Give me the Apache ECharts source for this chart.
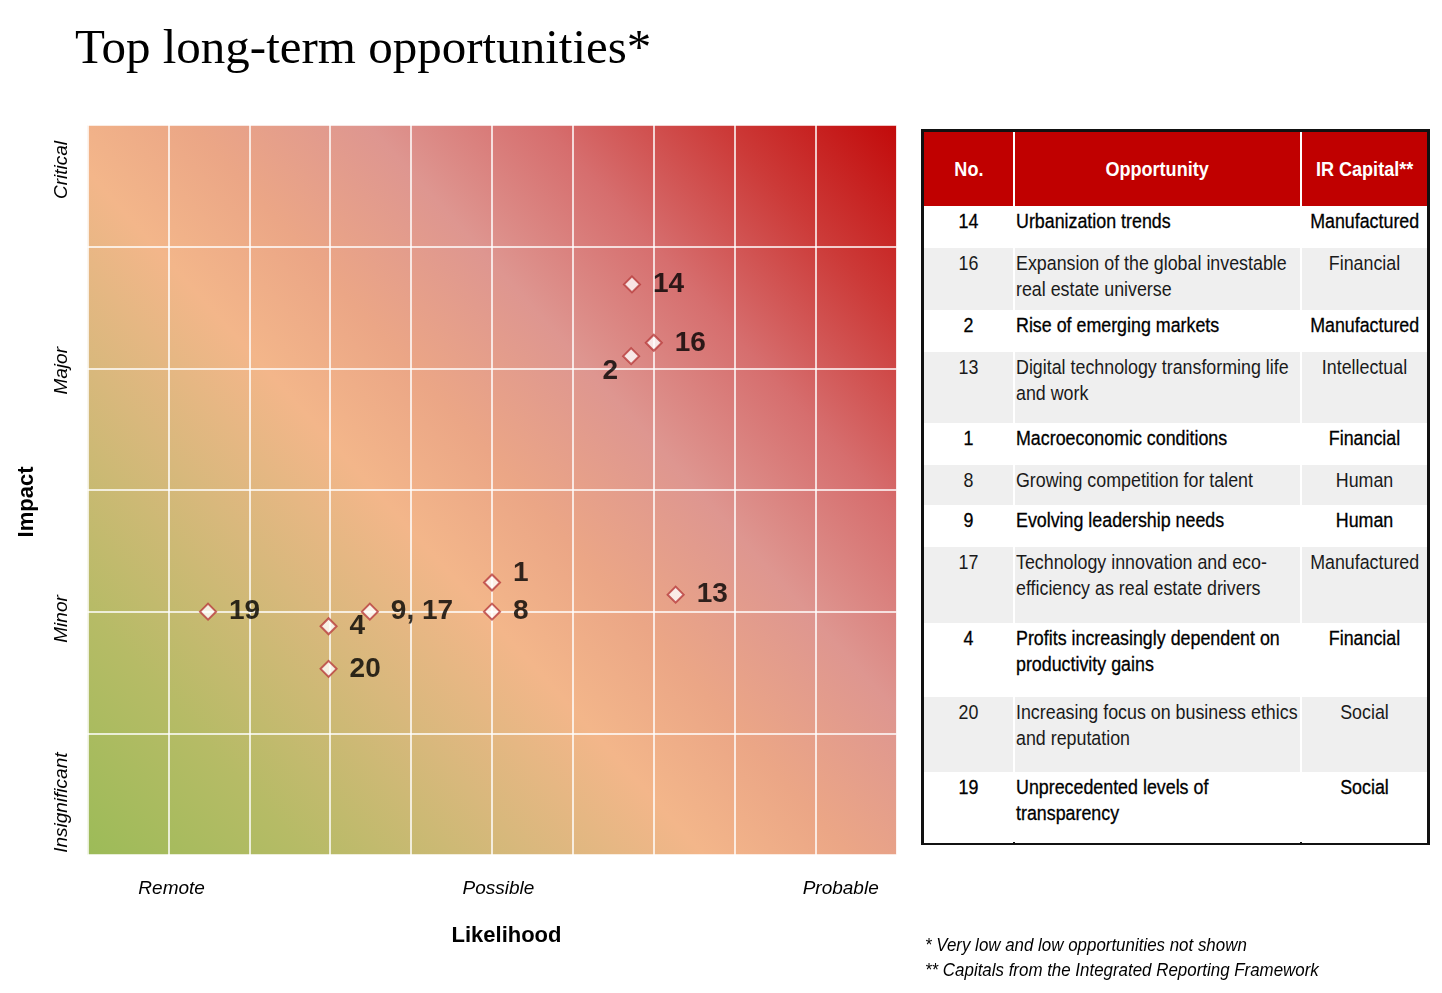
<!DOCTYPE html>
<html>
<head>
<meta charset="utf-8">
<script src="https://cdn.jsdelivr.net/npm/echarts@6/dist/echarts.min.js"></script>
<style>
  html, body { margin: 0; padding: 0; background: #fff; }
  #chart { position: absolute; left: 0; top: 0; width: 1442px; height: 993px; }
  #tbl { position: absolute; left: 921px; top: 129px; width: 509px; height: 716px;
         border: 3px solid #111; box-sizing: border-box; background: #fff;
         display: grid; grid-template-columns: 89px 285px 125px; column-gap: 2px;
         font-family: 'Liberation Sans', Arial, sans-serif; font-size: 20.5px; color: #1a1a1a; }
  .h { background: #c00000; color: #fff; font-weight: bold; font-size: 21px;
       display: flex; align-items: center; justify-content: center; height: 74px; overflow: visible; }
  .h span { display: inline-block; white-space: nowrap; transform: scaleX(0.86); transform-origin: center; }
  .c { box-sizing: border-box; padding-top: 2px; line-height: 26px; overflow: visible; }
  .c div { white-space: nowrap; transform: scaleX(0.87); }
  .o div { transform-origin: left center; }
  .n div, .k div { transform-origin: center center; text-align: center; }
  .g { background: #efefef; }
  .w { background: #fff; color: #000; -webkit-text-stroke: 0.3px #000; }
  .o { padding-left: 1px; }
</style>
</head>
<body>
<div id="chart"></div>
<div id="tbl"></div>
<script>
// ---- chart data ----
var pointNames = ['14', '16', '2', '13', '1', '8', '9, 17', '4', '20', '19'];
var likelihood = [6.73, 7.0, 6.72, 7.27, 5.0, 5.0, 3.49, 2.98, 2.98, 1.49];
var impact     = [4.69, 4.21, 4.10, 2.14, 2.24, 2.0, 2.0, 1.88, 1.53, 2.0];

var xLabelText = ['Remote', 'Possible', 'Probable'];
var xLabelPos  = [1.04, 5.08, 9.31];
var yLabelText = ['Insignificant', 'Minor', 'Major', 'Critical'];
var yLabelPos  = [0.43, 1.94, 3.98, 5.63];

// ---- table data ----
var tableHeader = ['No.', 'Opportunity', 'IR Capital**'];
var tableNo = ['14', '16', '2', '13', '1', '8', '9', '17', '4', '20', '19'];
var tableOpportunity = [
  'Urbanization trends',
  'Expansion of the global investable\nreal estate universe',
  'Rise of emerging markets',
  'Digital technology transforming life\nand work',
  'Macroeconomic conditions',
  'Growing competition for talent',
  'Evolving leadership needs',
  'Technology innovation and eco-\nefficiency as real estate drivers',
  'Profits increasingly dependent on\nproductivity gains',
  'Increasing focus on business ethics\nand reputation',
  'Unprecedented levels of\ntransparency'
];
var tableCapital = ['Manufactured', 'Financial', 'Manufactured', 'Intellectual', 'Financial',
  'Human', 'Human', 'Manufactured', 'Financial', 'Social', 'Social'];

// build table
(function () {
  var rowH = [42, 62, 42, 71, 42, 40, 42, 76, 74, 75, 71];
  var t = document.getElementById('tbl');
  function lines(s) {
    return s.split('\n').map(function (l) { return '<div>' + l + '</div>'; }).join('');
  }
  var html = '';
  tableHeader.forEach(function (h) { html += '<div class="h"><span>' + h + '</span></div>'; });
  for (var i = 0; i < tableNo.length; i++) {
    var cls = (i % 2 === 0) ? 'w' : 'g';
    var st = ' style="height:' + rowH[i] + 'px"';
    html += '<div class="c n ' + cls + '"' + st + '>' + lines(tableNo[i]) + '</div>';
    html += '<div class="c o ' + cls + '"' + st + '>' + lines(tableOpportunity[i]) + '</div>';
    html += '<div class="c k ' + cls + '"' + st + '>' + lines(tableCapital[i]) + '</div>';
  }
  t.innerHTML = html;
})();

var sans = "'Liberation Sans', Arial, sans-serif";

var labelOverrides = {
  '1': { offset: [0, -9] },
  '2': { position: 'left', distance: 4, offset: [0, 15] }
};

var seriesData = pointNames.map(function (n, i) {
  var item = { value: [likelihood[i], impact[i]], name: n };
  if (labelOverrides[n]) item.label = labelOverrides[n];
  return item;
});

var chart = echarts.init(document.getElementById('chart'), null, { renderer: 'canvas' });
chart.setOption({
  animation: false,
  title: {
    text: 'Top long-term opportunities*',
    left: 70, top: 21,
    textStyle: { fontFamily: "'Liberation Serif', 'Times New Roman', serif", fontSize: 49, fontWeight: 'normal', color: '#000' }
  },
  grid: {
    left: 87.5, right: 545.5, top: 125, bottom: 138,
    show: true, borderWidth: 0,
    backgroundColor: new echarts.graphic.LinearGradient(0, 1, 1, 0, [
      { offset: 0.0, color: '#9cbb58' },
      { offset: 0.15, color: '#b6bb66' },
      { offset: 0.30, color: '#d8b87c' },
      { offset: 0.42, color: '#f3b68a' },
      { offset: 0.52, color: '#eba686' },
      { offset: 0.64, color: '#de9690' },
      { offset: 0.76, color: '#d66e6e' },
      { offset: 0.88, color: '#cc3a38' },
      { offset: 1.0, color: '#c20a0a' }
    ])
  },
  xAxis: {
    type: 'value', min: 0, max: 10, interval: 1,
    axisLine: { show: false }, axisTick: { show: false },
    splitLine: { show: true, lineStyle: { color: '#ffffff', width: 1.5 } },
    axisLabel: {
      customValues: xLabelPos, margin: 24,
      formatter: function (v) { var i = xLabelPos.indexOf(v); return i >= 0 ? xLabelText[i] : ''; },
      fontFamily: sans, fontStyle: 'italic', fontSize: 19, color: '#000'
    },
    name: 'Likelihood', nameLocation: 'middle', nameGap: 70,
    nameTextStyle: { fontFamily: sans, fontWeight: 'bold', fontSize: 22, color: '#000', padding: [0, 0, 0, 29] }
  },
  yAxis: {
    type: 'value', min: 0, max: 6, interval: 1,
    axisLine: { show: false }, axisTick: { show: false },
    splitLine: { show: true, lineStyle: { color: '#ffffff', width: 1.5 } },
    axisLabel: {
      customValues: yLabelPos, margin: 16, rotate: 90,
      formatter: function (v) { var i = yLabelPos.indexOf(v); return i >= 0 ? yLabelText[i] : ''; },
      fontFamily: sans, fontStyle: 'italic', fontSize: 19, color: '#000'
    },
    name: 'Impact', nameLocation: 'middle', nameGap: 50, nameRotate: 90,
    nameTextStyle: { fontFamily: sans, fontWeight: 'bold', fontSize: 22, color: '#000', padding: [0, 24, 0, 0] }
  },
  series: [{
    type: 'scatter',
    symbol: 'diamond',
    symbolSize: 16,
    itemStyle: { color: '#ffffff', borderColor: '#b83c3c', borderWidth: 2 },
    label: {
      show: true, position: 'right', distance: 12,
      formatter: function (p) { return p.name; },
      fontFamily: sans, fontWeight: 'bold', fontSize: 28, color: '#000'
    },
    data: seriesData
  }],
  graphic: [
    { type: 'text', x: 925, y: 936, scaleX: 0.89, style: { text: '* Very low and low opportunities not shown', fontFamily: sans, fontStyle: 'italic', fontSize: 19, fill: '#000' } },
    { type: 'text', x: 925, y: 961, scaleX: 0.89, style: { text: '** Capitals from the Integrated Reporting Framework', fontFamily: sans, fontStyle: 'italic', fontSize: 19, fill: '#000' } }
  ]
});
</script>
</body>
</html>
